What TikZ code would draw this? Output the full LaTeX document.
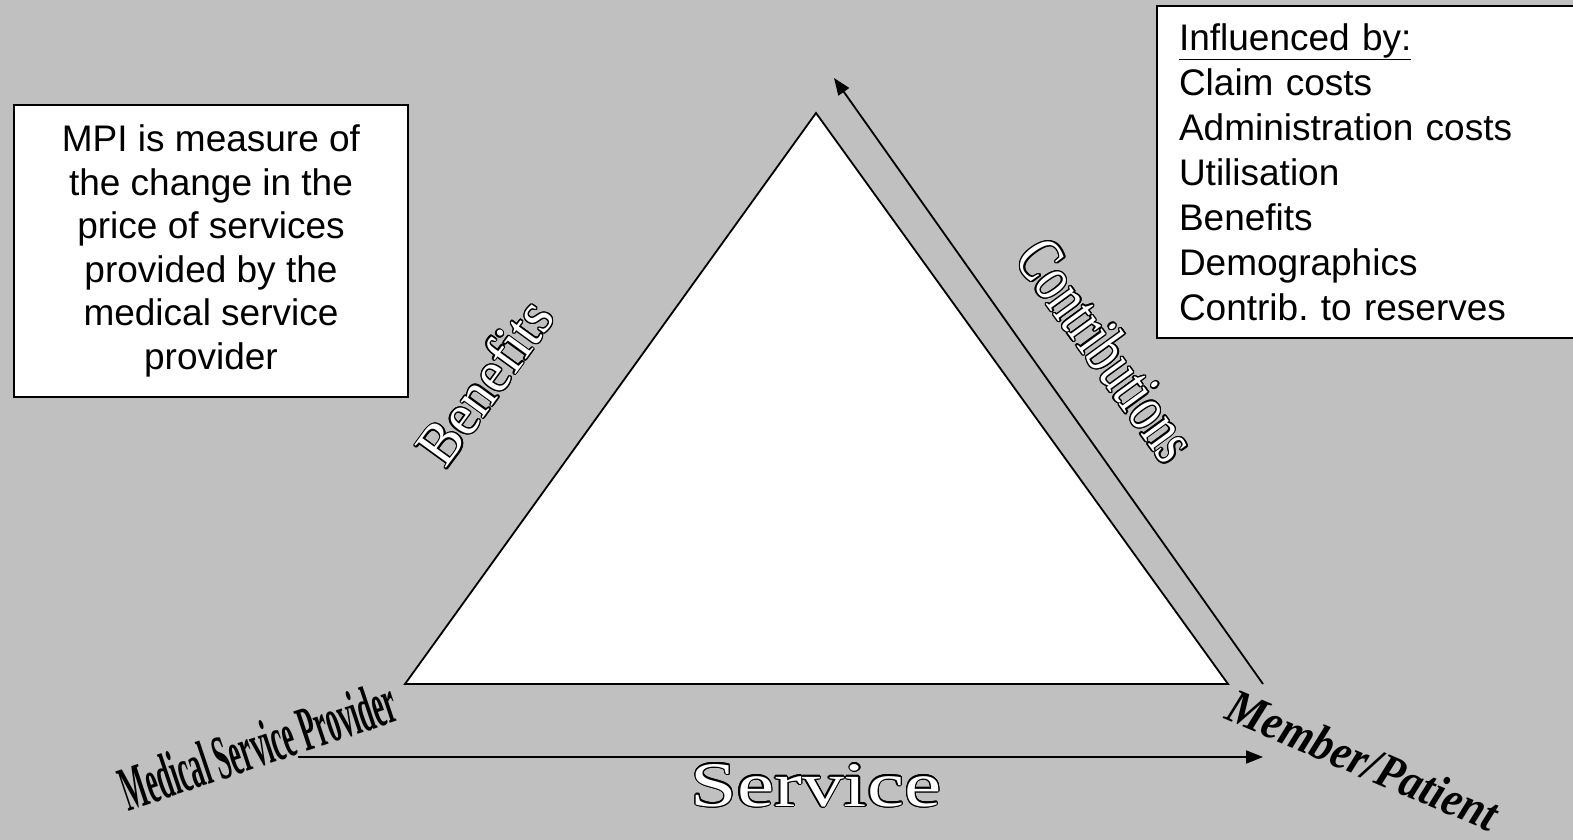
\documentclass[tikz,border=0pt]{standalone}
\usepackage{fontspec}
\setmainfont{Liberation Serif}
\newfontfamily\arialfont{Liberation Sans}
\usepackage{xcolor}
\usepackage{graphicx}
\usepackage{contour}
\contourlength{1.3pt}
\usetikzlibrary{arrows.meta}
\definecolor{SlideGray}{RGB}{192,192,192}

\begin{document}
\begin{tikzpicture}[x=1pt, y=-1pt,
          textbox/.style={draw=black, line width=2pt, fill=white, anchor=north west,
                          inner sep=0pt},
          edge/.style={line width=1.8pt, line join=miter},
          arr/.style={-{Triangle[length=17pt,width=13pt]}, line width=1.8pt},
          wordart/.style={inner sep=0pt, text=black},
          hollow/.style={inner sep=0pt, text=white}
        ]
        \path[use as bounding box, fill=SlideGray] (0,0) rectangle (1573,840);

        % text boxes
        \node[textbox, align=center, minimum width=394pt, minimum height=292pt,
              font=\arialfont\fontsize{37}{43.6}\selectfont] (mpi) at (13,104)
              {MPI is measure of\\the change in the\\price of services\\provided by the\\medical service\\provider};
        \node[textbox, align=left, minimum width=440pt, minimum height=332pt,
              text width=396pt, inner xsep=22pt,
              font=\arialfont\fontsize{37}{45}\selectfont] (infl) at (1156,5)
              {\underline{Influenced by:}\\Claim costs\\Administration costs\\Utilisation\\Benefits\\Demographics\\Contrib.\ to reserves};

        % triangle
        \coordinate (apex)    at (816,113);
        \coordinate (lcorner) at (405,684);
        \coordinate (rcorner) at (1228,684);
        \draw[edge, fill=white] (apex) -- (rcorner) -- (lcorner) -- cycle;

        % arrows
        \coordinate (cfoot) at (1263,684);
        \coordinate (chead) at (834,78);
        \coordinate (sfoot) at (298,757);
        \coordinate (shead) at (1263,757);
        \draw[arr] (cfoot) -- (chead);
        \draw[arr] (sfoot) -- (shead);

        % word art labels
        \node[hollow, rotate=54] (benef) at (485,382)
              {\contour{black}{\resizebox{188pt}{42pt}{Benefits}}};
        \node[hollow, rotate=-54] (contr) at (1107,350)
              {\contour{black}{\resizebox{256pt}{46pt}{Contributions}}};
        \node[hollow] (serv) at (816,786)
              {\contour{black}{\resizebox{251pt}{42pt}{Service}}};
        \node[wordart, rotate=18.5] (msp) at (258,745)
              {\resizebox{287pt}{44pt}{\bfseries Medical Service Provider}};
        \node[wordart, rotate=-23] (memb) at (1363,760)
              {\resizebox{290pt}{34pt}{\bfseries\itshape Member/Patient}};
      \end{tikzpicture}
\end{document}
